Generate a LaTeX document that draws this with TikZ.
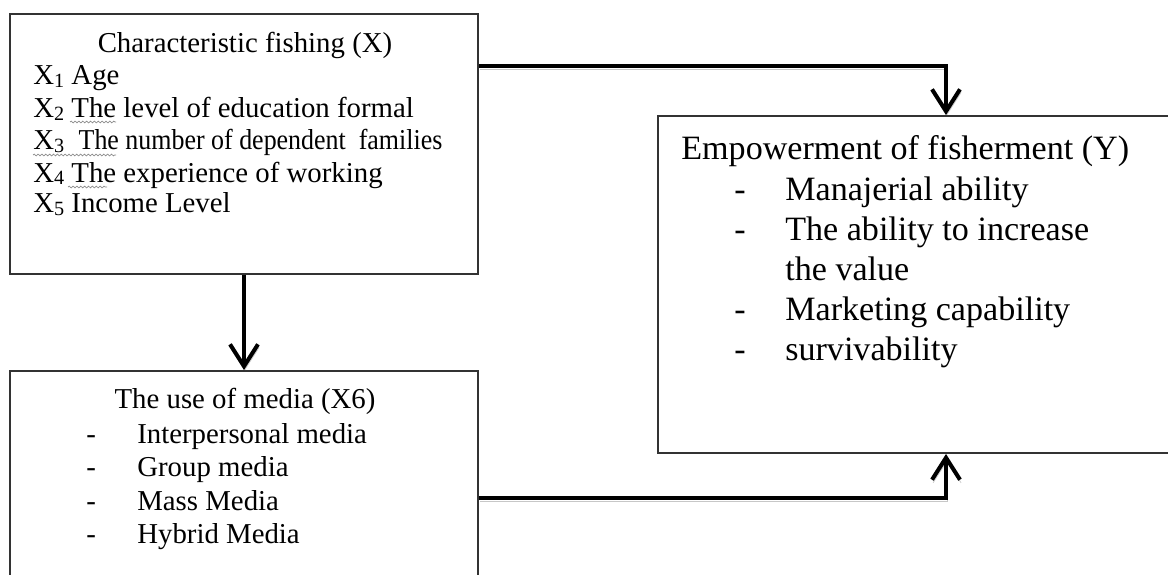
\documentclass[tikz,border=0pt]{standalone}
\usepackage{fontspec}
\setmainfont{Liberation Serif}
\usetikzlibrary{arrows.meta, positioning, decorations.pathmorphing}
\newcommand{\dashitem}[1]{\makebox[1.02cm][l]{-}#1}
\newcommand{\xsub}[1]{\raisebox{-1.2pt}{\fontsize{11.5}{11.5}\selectfont #1}}

\begin{document}
\begin{tikzpicture}[x=0.02cm, y=-0.02cm,
    box/.style={draw=black!80, line width=1.1pt, inner sep=0pt},
    flow/.style={line width=2.3pt, -{Straight Barb[length=4.4mm, width=5.6mm]},
      preaction={draw=black!22, transform canvas={xshift=0.6pt, yshift=-1.8pt}}},
    squiggle/.style={draw=black!45, line width=0.4pt,
      decorate, decoration={snake, amplitude=0.5pt, segment length=2.2pt}},
    small/.style={inner sep=0pt, font=\fontsize{16.4}{18}\selectfont},
    large/.style={inner sep=0pt, font=\fontsize{19.4}{22}\selectfont}]

  \useasboundingbox (0,0) rectangle (1168,574);
  \clip (0,0) rectangle (1168,574);

  % the three boxes
  \node[box, minimum width=9.36cm, minimum height=5.2cm]  (fish)  at (244,144) {};
  \node[box, minimum width=9.36cm, minimum height=5.08cm] (media) at (244,498) {};
  \node[box, minimum width=11.52cm, minimum height=6.74cm] (power) at (946,284.5) {};

  % characteristic fishing (X)
  \node[small, anchor=base] (fishT) at (245,53) {Characteristic fishing (X)};
  \node[small, anchor=base west] (x1) at (33,85)  {X\xsub{1} Age};
  \node[small, anchor=base west] (x2) at (33,118) {X\xsub{2} The level of education formal};
  \node[small, anchor=base west] (x3) at (33,150)
    {X\xsub{3}\ \ \scalebox{0.9}[1]{The number of dependent\ \ families}};
  \node[small, anchor=base west] (x4) at (33,182) {X\xsub{4} The experience of working};
  \node[small, anchor=base west] (x5) at (33,213) {X\xsub{5} Income Level};

  % spelling marks under some words
  \draw[squiggle] (70,122) -- (116,122);
  \draw[squiggle] (33,155) -- (116,155);
  \draw[squiggle] (68,187) -- (107,187);

  % the use of media (X6)
  \node[small, anchor=base] (mediaT) at (245,408) {The use of media (X6)};
  \node[small, anchor=base west] (m1) at (86,443) {\dashitem{Interpersonal media}};
  \node[small, anchor=base west] (m2) at (86,476) {\dashitem{Group media}};
  \node[small, anchor=base west] (m3) at (86,510) {\dashitem{Mass Media}};
  \node[small, anchor=base west] (m4) at (86,543) {\dashitem{Hybrid Media}};

  % empowerment of fisherment (Y)
  \node[large, anchor=base west] (powerT) at (681,160) {Empowerment of fisherment (Y)};
  \node[large, anchor=base west] (y1) at (734,200) {\dashitem{Manajerial ability}};
  \node[large, anchor=base west] (y2) at (734,240) {\dashitem{The ability to increase}};
  \node[large, anchor=base west] (y2b) at (785,280) {the value};
  \node[large, anchor=base west] (y3) at (734,320) {\dashitem{Marketing capability}};
  \node[large, anchor=base west] (y4) at (734,360) {\dashitem{survivability}};

  \draw[flow] (fish.south) -- (media.north);
  \draw[flow] ([yshift=-1.06cm]fish.north east) -| (power.north);
  \draw[flow] (media.east) -| (power.south);
\end{tikzpicture}
\end{document}
